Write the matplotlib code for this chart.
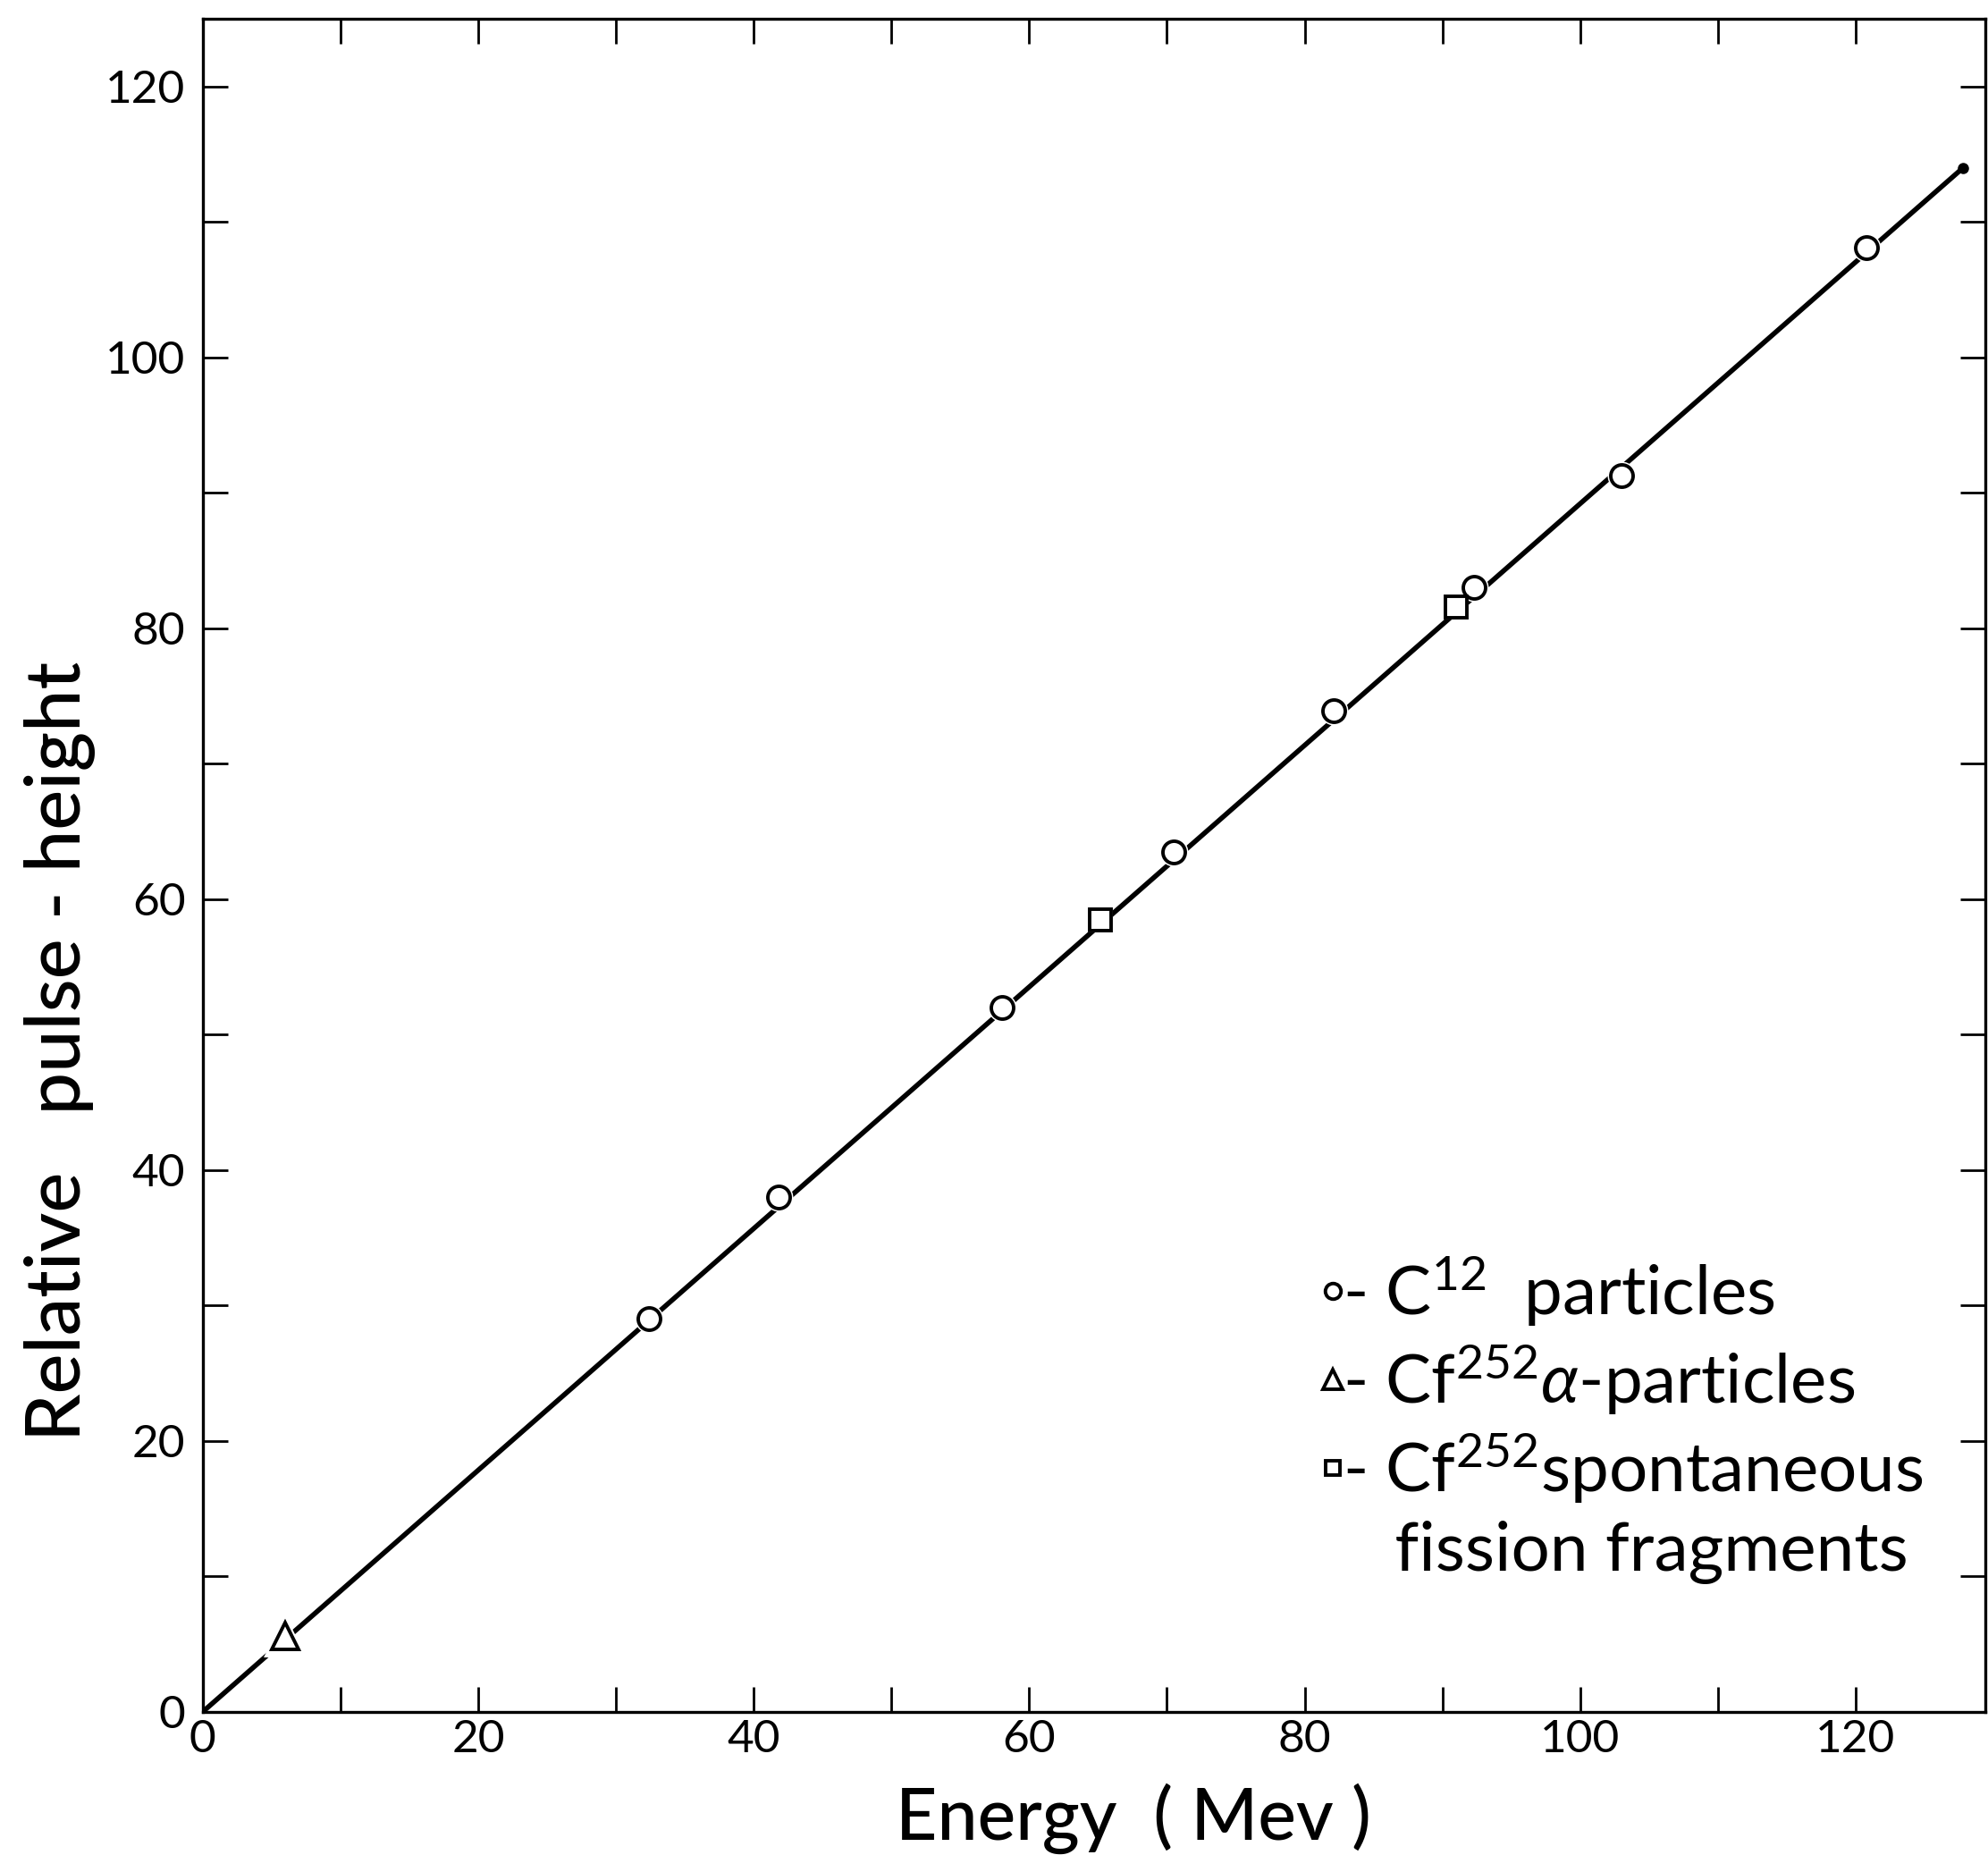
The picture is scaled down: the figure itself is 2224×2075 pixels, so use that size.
import numpy as np
import matplotlib
matplotlib.use("Agg")
import matplotlib.pyplot as plt

# C12 particles
c12_energy = [32.4, 41.8, 58.0, 70.5, 82.1, 92.3, 103.0, 120.8]
c12_pulse = [29.0, 38.0, 52.0, 63.5, 73.9, 83.0, 91.3, 108.1]
# Cf252 alpha particles
alpha_energy = [6.0]
alpha_pulse = [5.6]
# Cf252 spontaneous fission fragments
fission_energy = [65.2, 91.0]
fission_pulse = [58.5, 81.6]
# calibration line
fit_energy = [0.0, 127.8]
fit_pulse = [0.0, 114.0]

plt.rcParams['font.family'] = ['Lato', 'DejaVu Sans']
plt.rcParams['mathtext.fontset'] = 'custom'
plt.rcParams['mathtext.rm'] = 'Lato'
plt.rcParams['mathtext.it'] = 'Lato:italic'

fig = plt.figure(figsize=(22.24, 20.75), dpi=100)
ax = fig.add_axes([0.102, 0.0772, 0.8965, 0.9126])

ax.plot(fit_energy, fit_pulse, color='black', lw=4, solid_capstyle='round', zorder=2)
ax.plot(fit_energy[-1:], fit_pulse[-1:], 'o', color='black', ms=8, zorder=3)

# white halos so the line breaks around the points
halo = dict(ls='none', mfc='white', mec='white', mew=0, zorder=3)
ax.plot(c12_energy, c12_pulse, 'o', ms=23, **halo)
ax.plot(alpha_energy, alpha_pulse, '^', ms=34, **halo)
ax.plot(fission_energy, fission_pulse, 's', ms=20, **halo)

mk = dict(ls='none', mfc='white', mec='black', mew=2.8, zorder=4)
h1, = ax.plot(c12_energy, c12_pulse, 'o', ms=18, **mk)
h2, = ax.plot(alpha_energy, alpha_pulse, '^', ms=22, **mk)
h3, = ax.plot(fission_energy, fission_pulse, 's', ms=17, **mk)
h4, = ax.plot([], [], ls='none')

ax.set_xlim(0, 129.4)
ax.set_ylim(0, 125)
ax.set_xticks(np.arange(0, 121, 20))
ax.set_yticks(np.arange(0, 121, 20))
ax.set_xticks(np.arange(10, 130, 20), minor=True)
ax.set_yticks(np.arange(10, 125, 20), minor=True)
ax.tick_params(which='both', direction='in', length=20, width=2,
               top=True, right=True)
ax.tick_params(axis='x', which='major', labelsize=37, pad=6)
ax.tick_params(axis='y', which='major', labelsize=37, pad=14)
for s in ax.spines.values():
    s.set_linewidth(2.4)

ax.set_xlabel('Energy  ( Mev )', fontsize=58, fontweight='medium')
ax.xaxis.set_label_coords(0.522, -0.042)
ax.set_ylabel('Relative   pulse - height', fontsize=61, fontweight='medium')
ax.yaxis.set_label_coords(-0.06, 0.39)

leg = ax.legend([h1, h2, h3, h4],
                ['- C$^{\\mathrm{12}}$  particles',
                 '- Cf$^{\\mathrm{252}}$$\\alpha$-particles',
                 '- Cf$^{\\mathrm{252}}$spontaneous',
                 '   fission fragments'],
                loc='upper left', bbox_to_anchor=(0.609, 0.29), frameon=False,
                fontsize=55, markerscale=0.7, handlelength=0.3, handletextpad=0.0,
                labelspacing=0.22, borderpad=0)

fig.savefig('out.png', dpi=100)
